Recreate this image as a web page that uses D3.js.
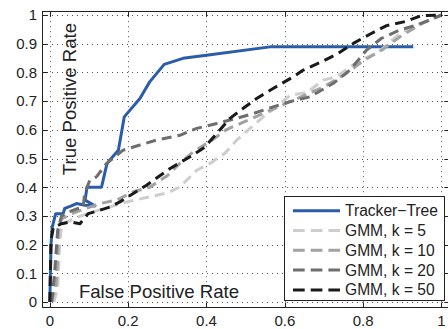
<!DOCTYPE html>
<html><head><meta charset="utf-8">
<script src="https://cdn.jsdelivr.net/npm/d3@7"></script>
<style>body{margin:0;background:#fff}svg{display:block}text{font-family:"Liberation Sans",Arial,sans-serif;fill:#222}</style>
</head><body><svg id="c" width="448" height="329"></svg>
<script>
const xTicks = [0,0.2,0.4,0.6,0.8,1];
const yTicks = [0,0.1,0.2,0.3,0.4,0.5,0.6,0.7,0.8,0.9,1];
const xTickLabels = ["0","0.2","0.4","0.6","0.8","1"];
const yTickLabels = ["0","0.1","0.2","0.3","0.4","0.5","0.6","0.7","0.8","0.9","1"];
const seriesNames = ["Tracker\u2212Tree","GMM, k = 5","GMM, k = 10","GMM, k = 20","GMM, k = 50"];

const fprTree = [0,0.003,0.006,0.015,0.034,0.038,0.055,0.068,0.09,0.115,0.09,0.095,0.132,0.136,0.145,0.15,0.175,0.19,0.23,0.255,0.292,0.34,0.4,0.562,0.928];
const tprTree = [0,0.2,0.26,0.308,0.308,0.326,0.335,0.343,0.337,0.335,0.355,0.40,0.40,0.424,0.477,0.49,0.529,0.645,0.709,0.767,0.828,0.849,0.86,0.889,0.889];

const fprK5 = [0.01,0.02,0.025,0.03,0.06,0.1,0.15,0.2,0.25,0.3,0.332,0.375,0.409,0.447,0.477,0.511,0.545,0.579,0.613,0.656,0.698,0.732,0.792,0.834,0.86,0.894,0.937,0.988,1];
const tprK5 = [0,0.05,0.2,0.27,0.29,0.31,0.33,0.35,0.365,0.38,0.401,0.459,0.483,0.518,0.564,0.605,0.645,0.68,0.72,0.73,0.773,0.785,0.843,0.866,0.895,0.936,0.965,0.994,1];

const fprK10 = [0.003,0.015,0.02,0.022,0.03,0.06,0.1,0.128,0.17,0.213,0.255,0.3,0.332,0.366,0.41,0.45,0.5,0.55,0.6,0.65,0.7,0.75,0.8,0.85,0.9,0.95,1];
const tprK10 = [0,0.05,0.15,0.25,0.29,0.31,0.33,0.343,0.355,0.384,0.40,0.44,0.483,0.523,0.56,0.6,0.63,0.66,0.69,0.72,0.75,0.79,0.84,0.88,0.93,0.97,1];

const fprK20 = [0.005,0.012,0.02,0.03,0.05,0.07,0.085,0.089,0.102,0.119,0.145,0.187,0.23,0.272,0.332,0.375,0.426,0.477,0.52,0.57,0.613,0.664,0.724,0.766,0.809,0.847,0.894,0.937,0.979,1];
const tprK20 = [0,0.1,0.25,0.3,0.315,0.325,0.33,0.378,0.424,0.436,0.483,0.529,0.547,0.564,0.581,0.605,0.622,0.64,0.657,0.68,0.698,0.715,0.762,0.808,0.878,0.919,0.948,0.965,0.988,1];

const fprK50 = [0,0.003,0.009,0.03,0.051,0.077,0.098,0.128,0.153,0.179,0.213,0.247,0.307,0.358,0.396,0.426,0.46,0.494,0.528,0.57,0.622,0.647,0.694,0.736,0.775,0.817,0.86,0.907,0.949,1];
const tprK50 = [0,0.215,0.26,0.273,0.279,0.273,0.308,0.32,0.331,0.349,0.378,0.407,0.465,0.506,0.54,0.587,0.64,0.675,0.709,0.744,0.785,0.808,0.837,0.866,0.901,0.933,0.963,0.977,0.998,1];

const series = [
  {name:seriesNames[0], x:fprTree, y:tprTree, color:"#2a5caa", dash:null},
  {name:seriesNames[1], x:fprK5, y:tprK5, color:"#cdcdcd", dash:"10,6"},
  {name:seriesNames[2], x:fprK10, y:tprK10, color:"#a2a2a2", dash:"10,6"},
  {name:seriesNames[3], x:fprK20, y:tprK20, color:"#6e6e6e", dash:"10,6"},
  {name:seriesNames[4], x:fprK50, y:tprK50, color:"#1a1a1a", dash:"10,6"}
];

const svg = d3.select("#c");
const x = d3.scaleLinear().domain([-0.02,1.02]).range([42,449.3]);
const y = d3.scaleLinear().domain([-0.018,1.015]).range([307.2,10.7]);
const [x0,x1] = x.range(), [y0,y1] = y.range();

// grid
const grid = svg.append("g").attr("stroke","#555").attr("stroke-width",1).attr("stroke-dasharray","1,4");
grid.selectAll("line.v").data(xTicks).join("line").attr("x1",d=>Math.round(x(d))+0.5).attr("x2",d=>Math.round(x(d))+0.5).attr("y1",y0).attr("y2",y1);
grid.selectAll("line.h").data(yTicks).join("line").attr("y1",d=>Math.round(y(d))+0.5).attr("y2",d=>Math.round(y(d))+0.5).attr("x1",x0).attr("x2",x1);

// curves
svg.append("clipPath").attr("id","cp").append("rect").attr("x",x0).attr("y",y1).attr("width",x1-x0).attr("height",y0-y1);
const line = d3.line().x(d=>x(d[0])).y(d=>y(d[1]));
svg.append("g").attr("clip-path","url(#cp)").selectAll("path").data(series).join("path")
  .attr("d",s=>line(s.x.map((v,i)=>[v,s.y[i]])))
  .attr("fill","none").attr("stroke",s=>s.color).attr("stroke-width",3)
  .attr("stroke-dasharray",s=>s.dash).attr("stroke-linejoin","round");

// frame & ticks
const ax = svg.append("g").attr("stroke","#222").attr("stroke-width",1).attr("fill","none");
ax.append("rect").attr("x",Math.round(x0)+0.5).attr("y",Math.round(y1)+0.5).attr("width",x1-x0).attr("height",Math.round(y0)-Math.round(y1));
const tl = 5;
xTicks.forEach(t=>{
  const px = Math.round(x(t))+0.5;
  ax.append("line").attr("x1",px).attr("x2",px).attr("y1",Math.round(y0)+0.5).attr("y2",Math.round(y0)+0.5-tl);
  ax.append("line").attr("x1",px).attr("x2",px).attr("y1",Math.round(y1)+0.5).attr("y2",Math.round(y1)+0.5+tl);
});
yTicks.forEach(t=>{
  const py = Math.round(y(t))+0.5;
  ax.append("line").attr("y1",py).attr("y2",py).attr("x1",Math.round(x0)+0.5).attr("x2",Math.round(x0)+0.5+tl);
  ax.append("line").attr("y1",py).attr("y2",py).attr("x1",x1).attr("x2",x1-tl);
});

// tick labels
svg.append("g").selectAll("text").data(xTicks).join("text")
  .attr("x",d=>x(d)).attr("y",325.5).attr("text-anchor","middle").attr("font-size",15)
  .text((d,i)=>xTickLabels[i]);
svg.append("g").selectAll("text").data(yTicks).join("text")
  .attr("x",37).attr("y",d=>y(d)+5.3).attr("text-anchor","end").attr("font-size",15)
  .text((d,i)=>yTickLabels[i]);

// axis titles (inside the plot)
svg.append("text").attr("x",159).attr("y",297.5).attr("text-anchor","middle").attr("font-size",18.6).text("False Positive Rate");
svg.append("text").attr("transform","translate(76,99) rotate(-90)").attr("text-anchor","middle").attr("font-size",18.6).text("True Positive Rate");

// legend
const lg = svg.append("g");
lg.append("rect").attr("x",284.5).attr("y",196.5).attr("width",160).attr("height",104).attr("fill","#fff").attr("stroke","#222");
series.forEach((s,i)=>{
  const ly = 210.7 + i*19.8;
  lg.append("line").attr("x1",293).attr("x2",340).attr("y1",ly).attr("y2",ly)
    .attr("stroke",s.color).attr("stroke-width",3).attr("stroke-dasharray",s.dash ? "11.7,6" : null);
  lg.append("text").attr("x",345).attr("y",ly+5.5).attr("font-size",15.6).text(s.name);
});
</script></body></html>
